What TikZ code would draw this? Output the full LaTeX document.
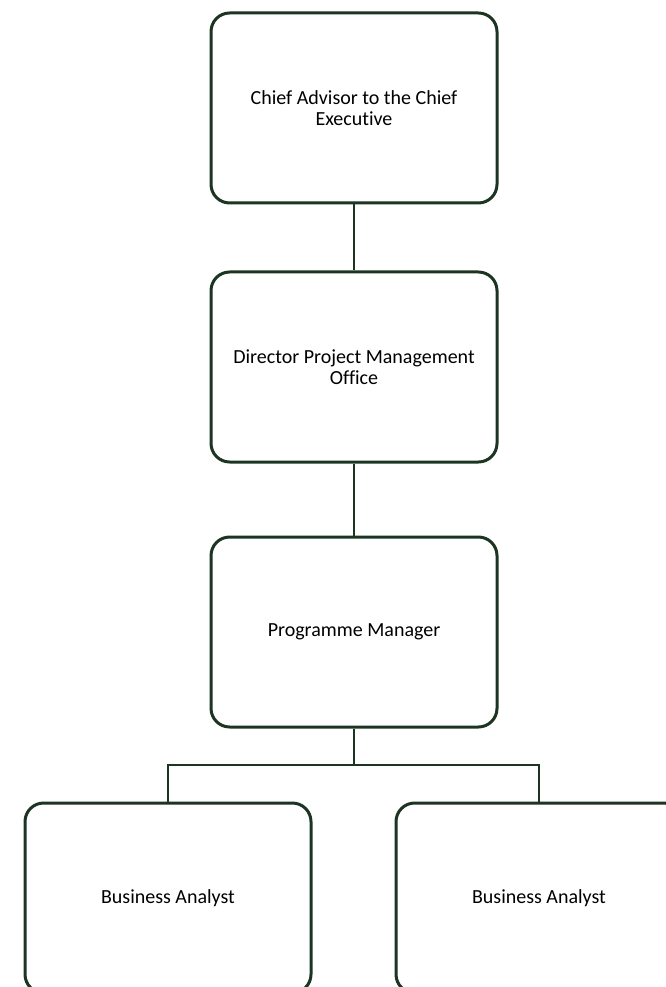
\documentclass[tikz,border=0pt]{standalone}
\usepackage{fontspec}
\setmainfont[Ligatures=NoCommon]{Carlito}
\usepackage{tikz}

\definecolor{boxgreen}{RGB}{28,52,34}

\begin{document}
\begin{tikzpicture}[x=0.75pt, y=-0.75pt,
	post/.style={draw=boxgreen, line width=2.25pt, rounded corners=14pt, fill=white, minimum width=214.5pt, minimum height=142.5pt, align=center, font=\fontsize{15}{16}\selectfont, text=black},
	link/.style={draw=boxgreen, line width=1.5pt}]
	
	\useasboundingbox (0,0) rectangle (666,987);
	
	\node [post] (chief) at (354,108) {Chief Advisor to the Chief\\Executive};
	\node [post] (director) at (354,367) {Director Project Management\\Office};
	\node [post] (manager) at (354,632) {Programme Manager};
	\node [post] (analystA) at (168,898) {Business Analyst};
	\node [post] (analystB) at (539,898) {Business Analyst};
	
	\coordinate (split) at (354,765);
	\draw [link] (chief.south) -- (director.north);
	\draw [link] (director.south) -- (manager.north);
	\draw [link] (manager.south) -- (split);
	\draw [link] (split) -| (analystA.north);
	\draw [link] (split) -| (analystB.north);
	\end{tikzpicture}
\end{document}
